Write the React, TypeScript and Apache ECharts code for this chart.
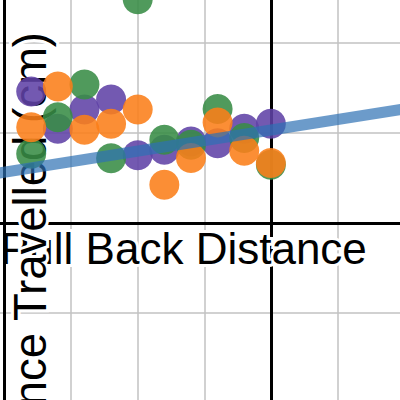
import React, { useEffect, useRef } from "react";
import * as echarts from "echarts";

// Pull-back distance columns (x) and measured distance travelled (y) per trial
const xCols = [-18, -16, -14, -12, -10, -8, -6, -4, -2, 0];
const purpleY = [7.3, 5.24, 6.3, 6.86, 3.76, 4.07, 4.53, 4.43, 5.24, 5.51];
const greenY = [3.85, 5.88, 7.69, 3.6, 12.43, 4.63, 4.35, 6.33, 4.72, 3.23];
const orangeY = [5.32, 7.58, 5.18, 5.52, 6.3, 2.12, 3.61, 5.59, 4.01, 3.33];

// fitted line end points
const fitX = [-25, 10];
const fitY = [2.24, 6.33];

// extra vertical reference line
const refLineX = -20;

const xLabel = "Pull Back Distance";
const yLabel = "Distance Travelled (cm)";

const pairs = (ys: number[]) => xCols.map((x, i) => [x, ys[i]]);

// the chart canvas is larger than the visible window (the view is zoomed in)
const OFF_X = 62;
const OFF_Y = 47;

export default function App() {
  const ref = useRef<HTMLDivElement>(null);
  useEffect(() => {
    document.body.style.margin = "0";
    const chart = echarts.init(ref.current!, null, { renderer: "svg" });
    const axisCommon = {
      type: "value",
      interval: 5,
      axisLine: { onZero: true, lineStyle: { color: "#000", width: 3 } },
      axisTick: { show: false },
      axisLabel: { show: false },
      splitLine: { show: true, lineStyle: { color: "#c2c2c2", width: 1.5 } },
    };
    const labelStyle = {
      fontFamily: "Liberation Sans, Arial, sans-serif",
      fill: "#000",
      stroke: "#fff",
      lineWidth: 6,
      strokeFirst: true,
    };
    chart.setOption({
      animation: false,
      backgroundColor: "#fff",
      grid: { left: 0, right: 0, top: 0, bottom: 0, containLabel: false },
      xAxis: { ...axisCommon, min: -25, max: 10 },
      yAxis: { ...axisCommon, min: -10, max: 15 },
      graphic: [
        {
          type: "text",
          z: 1,
          x: OFF_X + 0,
          y: OFF_Y + 248,
          style: { ...labelStyle, fontSize: 44, text: xLabel, textAlign: "left", textVerticalAlign: "middle" },
        },
        {
          type: "text",
          z: 2,
          x: OFF_X + 30,
          y: OFF_Y + 32,
          rotation: Math.PI / 2,
          style: { ...labelStyle, fontSize: 45.5, text: yLabel, textAlign: "right", textVerticalAlign: "middle" },
        },
      ],
      series: [
        {
          type: "scatter",
          data: pairs(purpleY),
          symbolSize: 30,
          itemStyle: { color: "#6042a6", opacity: 0.88 },
          z: 3,
          markLine: {
            silent: true,
            symbol: ["none", "none"],
            label: { show: false },
            lineStyle: { color: "#000", width: 3, type: "solid" },
            data: [{ xAxis: refLineX }],
          },
        },
        {
          type: "scatter",
          data: pairs(greenY),
          symbolSize: 30,
          itemStyle: { color: "#388c46", opacity: 0.88 },
          z: 4,
        },
        {
          type: "scatter",
          data: pairs(orangeY),
          symbolSize: 30,
          itemStyle: { color: "#fa7e19", opacity: 0.88 },
          z: 5,
        },
        {
          type: "line",
          data: fitX.map((x, i) => [x, fitY[i]]),
          showSymbol: false,
          symbol: "none",
          lineStyle: { color: "#2d70b3", width: 11, opacity: 0.7 },
          z: 6,
        },
      ],
    });
    return () => chart.dispose();
  }, []);
  return (
    <div style={{ position: "fixed", left: 0, top: 0, width: 400, height: 400, overflow: "hidden" }}>
      <div
        ref={ref}
        style={{ position: "absolute", left: -OFF_X, top: -OFF_Y, width: 466, height: 450 }}
      />
    </div>
  );
}
